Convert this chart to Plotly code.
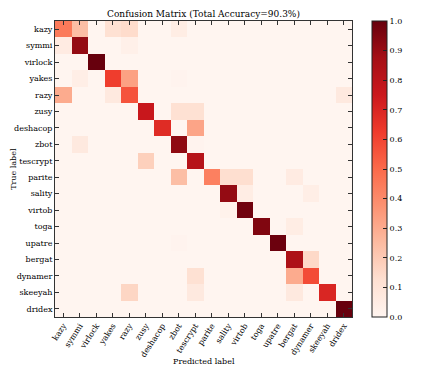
import plotly.graph_objects as go
import plotly.express as px

labels = ["kazy", "symmi", "virlock", "yakes", "razy", "zusy", "deshacop", "zbot",
          "tescrypt", "parite", "sality", "virtob", "toga", "upatre", "bergat",
          "dynamer", "skeeyah", "dridex"]

# normalised confusion matrix (rows = true label, cols = predicted label)
row_kazy     = [0.45, 0.24, 0, 0.12, 0.14, 0, 0, 0.05, 0, 0, 0, 0, 0, 0, 0, 0, 0, 0]
row_symmi    = [0.06, 0.91, 0, 0, 0.03, 0, 0, 0, 0, 0, 0, 0, 0, 0, 0, 0, 0, 0]
row_virlock  = [0, 0, 1.0, 0, 0, 0, 0, 0, 0, 0, 0, 0, 0, 0, 0, 0, 0, 0]
row_yakes    = [0, 0.04, 0, 0.62, 0.33, 0, 0, 0.01, 0, 0, 0, 0, 0, 0, 0, 0, 0, 0]
row_razy     = [0.30, 0, 0, 0.07, 0.56, 0, 0, 0, 0, 0, 0, 0, 0, 0, 0, 0, 0, 0.07]
row_zusy     = [0, 0, 0, 0, 0, 0.76, 0, 0.12, 0.12, 0, 0, 0, 0, 0, 0, 0, 0, 0]
row_deshacop = [0, 0, 0, 0, 0, 0, 0.68, 0, 0.32, 0, 0, 0, 0, 0, 0, 0, 0, 0]
row_zbot     = [0, 0.07, 0, 0, 0, 0, 0, 0.92, 0.01, 0, 0, 0, 0, 0, 0, 0, 0, 0]
row_tescrypt = [0, 0, 0, 0, 0, 0.18, 0, 0, 0.82, 0, 0, 0, 0, 0, 0, 0, 0, 0]
row_parite   = [0, 0, 0, 0, 0, 0, 0, 0.24, 0, 0.43, 0.13, 0.13, 0, 0, 0.06, 0, 0, 0]
row_sality   = [0, 0, 0, 0, 0, 0, 0, 0, 0, 0, 0.91, 0.05, 0, 0, 0, 0.04, 0, 0]
row_virtob   = [0, 0, 0, 0, 0, 0, 0, 0, 0, 0, 0.02, 0.98, 0, 0, 0, 0, 0, 0]
row_toga     = [0, 0, 0, 0, 0, 0, 0, 0, 0, 0, 0, 0, 0.95, 0, 0.05, 0, 0, 0]
row_upatre   = [0, 0, 0, 0, 0, 0, 0, 0.01, 0, 0, 0, 0, 0, 0.99, 0, 0, 0, 0]
row_bergat   = [0, 0, 0, 0, 0, 0, 0, 0, 0, 0, 0, 0, 0, 0, 0.85, 0.15, 0, 0]
row_dynamer  = [0, 0, 0, 0, 0, 0, 0, 0, 0.12, 0, 0, 0, 0, 0, 0.30, 0.58, 0, 0]
row_skeeyah  = [0, 0, 0, 0, 0.16, 0, 0, 0, 0.07, 0, 0, 0, 0, 0, 0.07, 0, 0.70, 0]
row_dridex   = [0, 0, 0, 0, 0, 0, 0, 0, 0, 0, 0, 0, 0, 0, 0, 0, 0, 1.0]

cm = [row_kazy, row_symmi, row_virlock, row_yakes, row_razy, row_zusy, row_deshacop,
      row_zbot, row_tescrypt, row_parite, row_sality, row_virtob, row_toga,
      row_upatre, row_bergat, row_dynamer, row_skeeyah, row_dridex]

total_acc = 90.3
font = "DejaVu Serif"

# the page body adds an 8px margin, so the figure is 8px smaller on each axis
W, H = 431, 361

fig = go.Figure(go.Heatmap(
    z=cm, x=labels, y=labels,
    colorscale=px.colors.sequential.Reds, zmin=0, zmax=1,
    colorbar=dict(
        x=1.067, xanchor="left", y=0.5, yanchor="middle", len=1.0, lenmode="fraction",
        xpad=0, ypad=0, thickness=15, outlinewidth=1, outlinecolor="#222",
        tickvals=[i / 10 for i in range(11)], ticktext=[f"{i/10:.1f}" for i in range(11)],
        ticks="inside", ticklen=4, tickcolor="#222",
        tickfont=dict(family=font, size=8, color="black"),
    ),
))

axis_common = dict(
    showline=True, linecolor="#333", linewidth=1, mirror="ticks",
    ticks="inside", ticklen=4, tickcolor="#333", showgrid=False, zeroline=False,
    automargin=False, tickfont=dict(family=font, size=8, color="black"),
)
fig.update_xaxes(tickangle=-57, **axis_common)
fig.update_yaxes(autorange="reversed", **axis_common)

# axis titles placed by hand, like the matplotlib original
fig.add_annotation(text="Predicted label", x=0.5, y=-0.152, xref="paper", yref="paper",
                   showarrow=False, yanchor="middle", font=dict(family=font, size=8, color="black"))
fig.add_annotation(text="True label", x=-0.142, y=0.5, xref="paper", yref="paper",
                   showarrow=False, textangle=-90, xanchor="center",
                   font=dict(family=font, size=8, color="black"))

fig.update_layout(
    width=W, height=H,
    margin=dict(l=47, r=87, t=13, b=52, autoexpand=False),
    plot_bgcolor="white", paper_bgcolor="white",
    title=dict(text=f"Confusion Matrix (Total Accuracy={total_acc}%)",
               font=dict(family=font, size=9, color="black"),
               x=(47 + 344) / 2 / W, xanchor="center", y=1 - 6 / H, yanchor="middle"),
)

fig.write_html("out.html")
